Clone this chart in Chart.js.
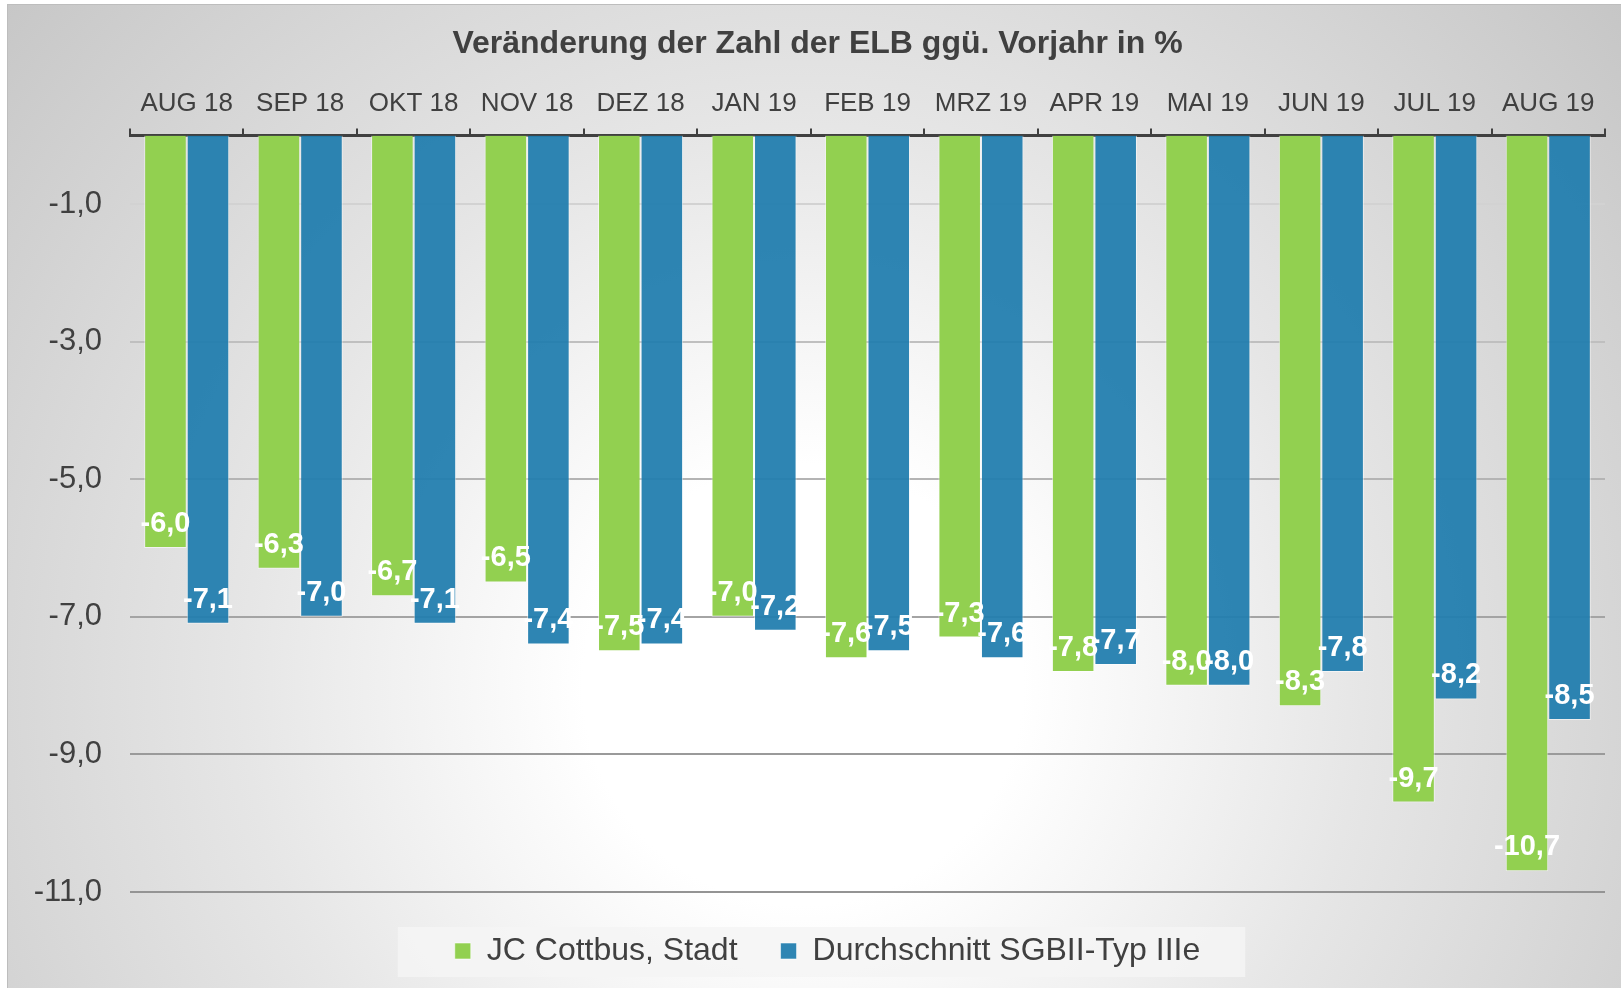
<!DOCTYPE html>
<html>
<head>
<meta charset="utf-8">
<script src="https://cdn.jsdelivr.net/npm/chart.js@4"></script>
<style>
  body { margin: 0; background: #ffffff; overflow: hidden; }
  #panel {
    position: absolute; left: 7px; top: 4px; width: 1620px; height: 990px;
    border-left: 1px solid #bdbdbd; border-top: 1px solid #bdbdbd;
    background: radial-gradient(circle at 795px 680px, #ffffff 0px, #ffffff 220px, #e6e6e6 560px, #c5c5c5 1080px);
  }
  #grafico { position: absolute; left: 0; top: 0; }
</style>
</head>
<body>
<div id="panel"></div>
<canvas id="grafico" width="1621" height="988"></canvas>
<script>
// dati
var mesi = ['AUG 18', 'SEP 18', 'OKT 18', 'NOV 18', 'DEZ 18', 'JAN 19', 'FEB 19', 'MRZ 19', 'APR 19', 'MAI 19', 'JUN 19', 'JUL 19', 'AUG 19'];
var cottbus = [-6.0, -6.3, -6.7, -6.5, -7.5, -7.0, -7.6, -7.3, -7.8, -8.0, -8.3, -9.7, -10.7];
var durchschnitt = [-7.1, -7.0, -7.1, -7.4, -7.4, -7.2, -7.5, -7.6, -7.7, -8.0, -7.8, -8.2, -8.5];
var tickY = [-11, -9, -7, -5, -3, -1];
var titolo = 'Veränderung der Zahl der ELB ggü. Vorjahr in %';
var nomeSerie1 = 'JC Cottbus, Stadt';
var nomeSerie2 = 'Durchschnitt SGBII-Typ IIIe';

var font = '"Liberation Sans", Arial, sans-serif';
var grigio = '#404040';

function virgola(v) {
    return v.toFixed(1).replace('.', ',');
}

// etichette bianche sulle barre
var etichette = {
    id: 'etichette',
    afterDatasetsDraw: function(chart) {
        var ctx = chart.ctx;
        ctx.save();
        ctx.fillStyle = '#ffffff';
        ctx.font = 'bold 29px ' + font;
        ctx.textAlign = 'center';
        ctx.textBaseline = 'middle';
        chart.data.datasets.forEach(function(ds, i) {
            var meta = chart.getDatasetMeta(i);
            meta.data.forEach(function(bar, j) {
                ctx.fillText(virgola(ds.data[j]), bar.x, bar.y - 24);
            });
        });
        ctx.restore();
    }
};

// riquadro chiaro dietro la legenda (e legenda spostata un po' a destra)
var sfondoLegenda = {
    id: 'sfondoLegenda',
    afterLayout: function(chart) {
        if (chart.legend) {
            chart.legend.left += 10;
            chart.legend.right += 10;
        }
    },
    beforeDraw: function(chart) {
        var leg = chart.legend;
        if (!leg || !leg.legendHitBoxes.length) return;
        var hb = leg.legendHitBoxes;
        var sx = hb[0].left - 57;
        var dx = hb[hb.length - 1].left + hb[hb.length - 1].width + 45;
        var ctx = chart.ctx;
        ctx.save();
        ctx.fillStyle = 'rgba(244,244,244,0.85)';
        ctx.fillRect(sx, leg.top + 35, dx - sx, 50);
        ctx.restore();
    }
};

var coloriGriglia = {'-11': '#949494', '-9': '#9a9a9a', '-7': '#a4a4a4', '-5': '#b4b4b4', '-3': '#bfbfbf', '-1': '#d2d2d2'};

var chart = new Chart(document.getElementById('grafico'), {
    type: 'bar',
    data: {
        labels: mesi,
        datasets: [{
            label: nomeSerie1,
            data: cottbus,
            backgroundColor: '#92D050',
            borderColor: 'rgba(255,255,255,0.55)',
            borderWidth: 1
        }, {
            label: nomeSerie2,
            data: durchschnitt,
            backgroundColor: 'rgba(33,125,174,0.94)',
            borderColor: 'rgba(255,255,255,0.55)',
            borderWidth: 1
        }]
    },
    options: {
        responsive: false,
        animation: false,
        devicePixelRatio: 1,
        categoryPercentage: 0.75,
        barPercentage: 1.0,
        layout: { padding: { left: 30, right: 16, top: 0, bottom: 11 } },
        plugins: {
            title: {
                display: true,
                text: titolo,
                color: grigio,
                font: { family: font, size: 32, weight: 'bold' },
                padding: { top: 25, bottom: 0 }
            },
            legend: {
                position: 'bottom',
                labels: {
                    color: grigio,
                    font: { family: font, size: 32 },
                    boxWidth: 16,
                    boxHeight: 16,
                    padding: 43
                }
            },
            tooltip: { enabled: false }
        },
        scales: {
            x: {
                position: 'top',
                afterFit: function(scale) { scale.height = 72; },
                grid: {
                    offset: true,
                    drawOnChartArea: false,
                    drawTicks: true,
                    tickLength: 7,
                    color: grigio,
                    lineWidth: 2
                },
                border: { display: true, color: grigio, width: 3 },
                ticks: {
                    color: grigio,
                    padding: 9,
                    maxRotation: 0,
                    autoSkip: false,
                    font: { family: font, size: 26 }
                }
            },
            y: {
                min: -11,
                max: 0,
                afterFit: function(scale) { scale.width = 100; },
                afterBuildTicks: function(scale) {
                    scale.ticks = tickY.map(function(v) { return { value: v }; });
                },
                grid: {
                    drawTicks: false,
                    lineWidth: 2,
                    color: function(c) {
                        return c.tick ? coloriGriglia[String(c.tick.value)] : '#a0a0a0';
                    }
                },
                border: { display: false },
                ticks: {
                    color: grigio,
                    padding: 28,
                    font: { family: font, size: 31 },
                    callback: function(v) { return virgola(v); }
                }
            }
        }
    },
    plugins: [sfondoLegenda, etichette]
});
</script>
</body>
</html>
